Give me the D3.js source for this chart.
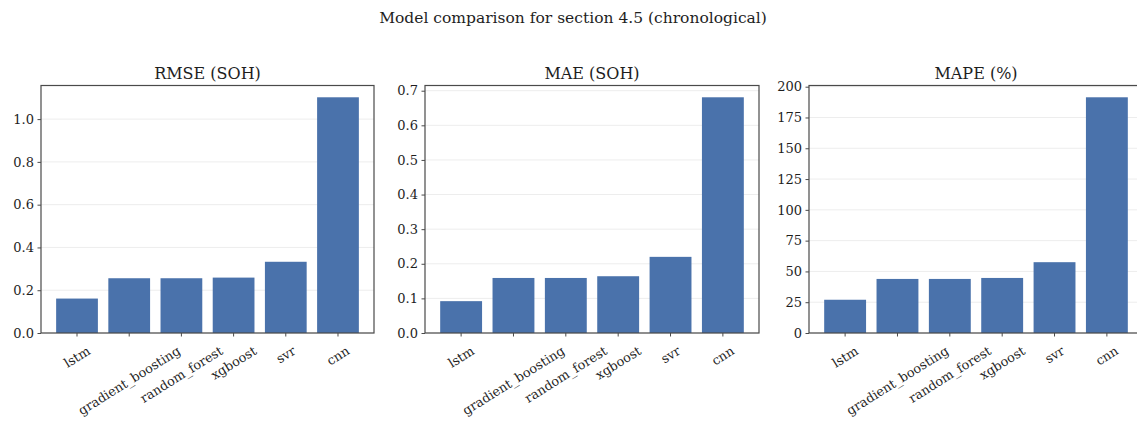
<!DOCTYPE html>
<html>
<head>
<meta charset="utf-8">
<script src="https://cdn.jsdelivr.net/npm/d3@7"></script>
<style>
  html, body { margin: 0; padding: 0; background: #fff; }
  svg { display: block; font-family: "DejaVu Serif", serif; }
</style>
</head>
<body>
<svg id="chart" width="1137" height="424"></svg>
<script>
// Models in plotting order
const models = ["lstm", "gradient_boosting", "random_forest", "xgboost", "svr", "cnn"];

// Error metrics per model
const rmseValues = [0.161, 0.256, 0.256, 0.259, 0.333, 1.102];
const maeValues  = [0.092, 0.159, 0.159, 0.164, 0.220, 0.681];
const mapeValues = [27.0, 43.9, 43.9, 44.7, 57.5, 191.4];

// Y tick labels per panel
const rmseTicks = [0.0, 0.2, 0.4, 0.6, 0.8, 1.0];
const maeTicks  = [0.0, 0.1, 0.2, 0.3, 0.4, 0.5, 0.6, 0.7];
const mapeTicks = [0, 25, 50, 75, 100, 125, 150, 175, 200];

const panels = [
  { title: "RMSE (SOH)", values: rmseValues, ticks: rmseTicks, fmt: d3.format(".1f"), x0: 41,  x1: 374 },
  { title: "MAE (SOH)",  values: maeValues,  ticks: maeTicks,  fmt: d3.format(".1f"), x0: 425, x1: 759 },
  { title: "MAPE (%)",   values: mapeValues, ticks: mapeTicks, fmt: d3.format("d"),   x0: 809, x1: 1143 }
];

const plotTop = 85.5, plotBottom = 333;
const barColor = "#4a72ab";
const textColor = "#1e1e1e";
const frameColor = "#4a4a4a";

const svg = d3.select("#chart");

svg.append("text")
  .attr("x", 573).attr("y", 23)
  .attr("text-anchor", "middle")
  .attr("font-size", 15.5)
  .attr("fill", textColor)
  .text("Model comparison for section 4.5 (chronological)");

panels.forEach(p => {
  const g = svg.append("g");

  const x = d3.scaleBand()
    .domain(models)
    .range([p.x0, p.x1])
    .paddingInner(0.2)
    .paddingOuter(0.29);

  const y = d3.scaleLinear()
    .domain([0, d3.max(p.values) * 1.05])
    .range([plotBottom, plotTop]);

  // light horizontal grid
  g.append("g").selectAll("line")
    .data(p.ticks)
    .join("line")
    .attr("x1", p.x0).attr("x2", p.x1)
    .attr("y1", d => y(d)).attr("y2", d => y(d))
    .attr("stroke", "#ededed")
    .attr("stroke-width", 1);

  // bars
  g.append("g").selectAll("rect")
    .data(models.map((m, i) => ({ m, v: p.values[i] })))
    .join("rect")
    .attr("x", d => x(d.m))
    .attr("width", x.bandwidth())
    .attr("y", d => y(d.v))
    .attr("height", d => y(0) - y(d.v))
    .attr("fill", barColor);

  // y axis
  const yAxis = g.append("g")
    .attr("transform", `translate(${p.x0},0)`)
    .call(d3.axisLeft(y).tickValues(p.ticks).tickFormat(p.fmt).tickSize(3.5).tickPadding(3.5));
  yAxis.select(".domain").remove();
  yAxis.selectAll(".tick line").attr("stroke", frameColor);
  yAxis.selectAll(".tick text")
    .attr("font-family", "DejaVu Serif, serif")
    .attr("font-size", 13)
    .attr("fill", textColor);

  // x axis ticks
  const xAxis = g.append("g")
    .attr("transform", `translate(0,${plotBottom})`)
    .call(d3.axisBottom(x).tickSize(3.5).tickFormat(""));
  xAxis.select(".domain").remove();
  xAxis.selectAll(".tick line").attr("stroke", frameColor);

  // rotated x labels, bounding box centred under each tick
  const labelTop = plotBottom + 11;
  const fs = 12.8;
  const angle = 32;
  g.append("g").selectAll("text")
    .data(models)
    .join("text")
    .attr("font-size", fs)
    .attr("fill", textColor)
    .attr("text-anchor", "middle")
    .attr("dominant-baseline", "central")
    .text(d => d)
    .each(function (d) {
      const w = this.getComputedTextLength();
      const a = angle * Math.PI / 180;
      const h = w * Math.sin(a) + fs * Math.cos(a);
      const cx = x(d) + x.bandwidth() / 2;
      d3.select(this).attr("transform", `translate(${cx},${labelTop + h / 2}) rotate(${-angle})`);
    });

  // frame
  g.append("rect")
    .attr("x", p.x0).attr("y", plotTop)
    .attr("width", p.x1 - p.x0).attr("height", plotBottom - plotTop)
    .attr("fill", "none")
    .attr("stroke", frameColor)
    .attr("stroke-width", 1.2);

  // panel title
  g.append("text")
    .attr("x", (p.x0 + p.x1) / 2).attr("y", 79)
    .attr("text-anchor", "middle")
    .attr("font-size", 16)
    .attr("fill", textColor)
    .text(p.title);
});
</script>
</body>
</html>
